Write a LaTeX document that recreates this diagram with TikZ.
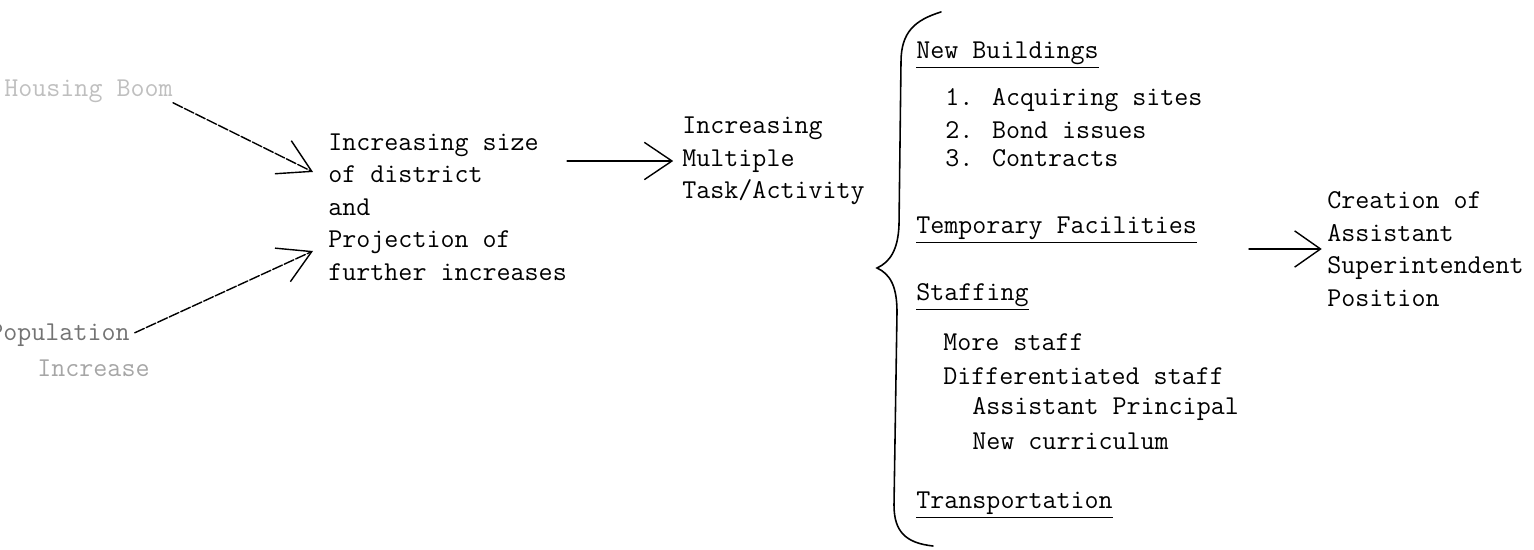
\documentclass[tikz,border=0pt]{standalone}
\usepackage{tikz}
\usetikzlibrary{arrows.meta,positioning}
\tikzset{x=0.02cm,y=-0.02cm,
  >={Straight Barb[angle=60:21pt]},
  every node/.style={font=\ttfamily\fontsize{15.5}{18.5}\selectfont,inner sep=0pt,anchor=west},
  conn/.style={line width=0.8pt,line cap=round},
  typed/.style={conn,dash pattern=on 6pt off 1.2pt},
  brace/.style={line width=0.9pt,line cap=round}}

\begin{document}
\begin{tikzpicture}
    \useasboundingbox (0,0) rectangle (1534,550);
    % causes
    \node[text=black!25] (boom) at (4,91) {Housing Boom};
    \node[text=black!55] (pop) at (-11,335) {Population};
    \node[text=black!35] (incr) at (37,368) {Increase};
    \node[align=left] (size) at (328,207) {Increasing size\\of district\\and\\Projection of\\further increases};
    \node[align=left] (task) at (682,161) {Increasing\\Multiple\\Task/Activity};
    % what the tasks are
    \node (new) at (916,55) {\underline{New Buildings}};
    \node (n1) at (945,100) {1. Acquiring sites};
    \node (n2) at (945,130) {2. Bond issues};
    \node (n3) at (945,158) {3. Contracts};
    \node (temp) at (916,230) {\underline{Temporary Facilities}};
    \node (staff) at (916,297) {\underline{Staffing}};
    \node (more) at (943,342) {More staff};
    \node (diff) at (943,376) {Differentiated staff};
    \node (asst) at (972,409) {Assistant Principal};
    \node (curr) at (972,441) {New curriculum};
    \node (trans) at (916,505) {\underline{Transportation}};
    \node[align=left] (create) at (1327,249) {Creation of\\Assistant\\Superintendent\\Position};

    \coordinate (in1) at (313,172);
    \coordinate (in2) at (313,251);
    \coordinate (out) at (1249,0);
    \path[->]
    (boom.south east) edge[typed] (in1)
    (pop.east) edge[typed,shorten <=3pt] (in2)
    (size.east |- task.west) edge[conn,shorten >=5pt,>={Straight Barb[angle=68:19pt]}] (task.west)
    (out |- create.west) edge[conn,shorten >=3pt,>={Straight Barb[angle=70:18pt]}] (create.west)
    ;
    % the big brace
    \draw[brace] (941,12) .. controls (915,20) and (901,32) .. (901,62)
      -- (899,225) .. controls (898,250) and (890,262) .. (877,268)
      .. controls (890,274) and (897,286) .. (897,312)
      -- (894,505) .. controls (894,532) and (906,543) .. (933,546);
\end{tikzpicture}
\end{document}
